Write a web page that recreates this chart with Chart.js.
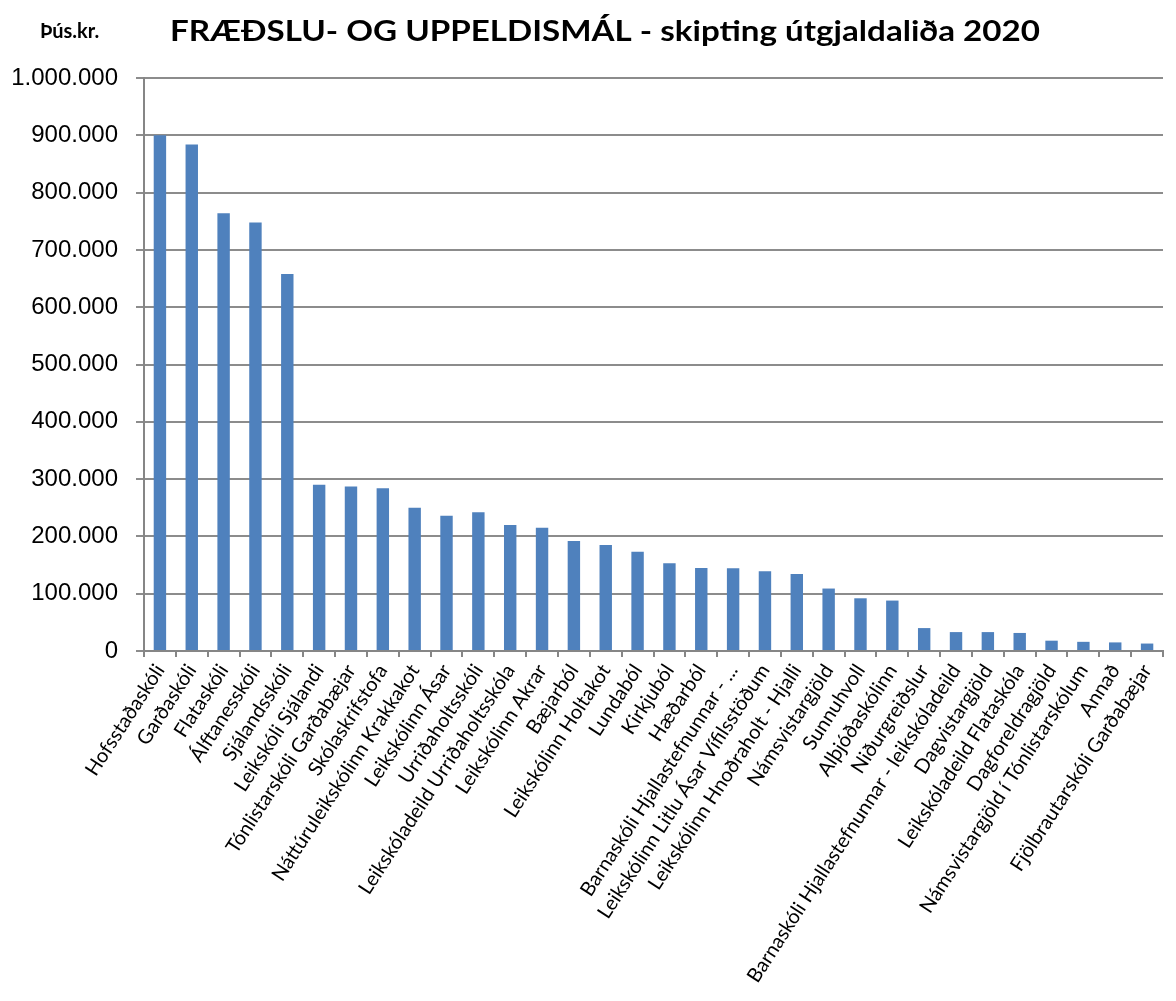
<!DOCTYPE html>
<html>
<head>
<meta charset="utf-8">
<script src="https://cdn.jsdelivr.net/npm/chart.js@4.4.0/dist/chart.umd.min.js"></script>
<style>
  html, body { margin: 0; padding: 0; background: #fff; }
  #wrap { width: 1176px; height: 1001px; position: relative; }
</style>
</head>
<body>
<div id="wrap"><canvas id="chart" width="1176" height="1001"></canvas></div>
<script>
// Categories and values (þús.kr.)
const categories = [
  "Hofsstaðaskóli", "Garðaskóli", "Flataskóli", "Álftanesskóli", "Sjálandsskóli",
  "Leikskóli Sjálandi", "Tónlistarskóli Garðabæjar", "Skólaskrifstofa",
  "Náttúruleikskólinn Krakkakot", "Leikskólinn Ásar", "Urriðaholtsskóli",
  "Leikskóladeild Urriðaholtsskóla", "Leikskólinn Akrar", "Bæjarból",
  "Leikskólinn Holtakot", "Lundaból", "Kirkjuból", "Hæðarból",
  "Barnaskóli Hjallastefnunnar - ...", "Leikskólinn Litlu Ásar Vífilsstöðum",
  "Leikskólinn Hnoðraholt - Hjalli", "Námsvistargjöld", "Sunnuhvoll",
  "Alþjóðaskólinn", "Niðurgreiðslur", "Barnaskóli Hjallastefnunnar - leikskóladeild",
  "Dagvistargjöld", "Leikskóladeild Flataskóla", "Dagforeldragjöld",
  "Námsvistargjöld í Tónlistarskólum", "Annað", "Fjölbrautarskóli Garðabæjar"
];
const values = [
  900000, 884000, 764000, 748000, 658000,
  290000, 287000, 284000,
  250000, 236000, 242000,
  220000, 215000, 192000,
  185000, 173000, 153000, 145000,
  144500, 139000,
  134500, 109000, 92000,
  88000, 40000, 33000,
  33000, 31500, 18000,
  16000, 15000, 13000
];
const yTicks = [0, 100000, 200000, 300000, 400000, 500000, 600000, 700000, 800000, 900000, 1000000];
const titleText = "FRÆÐSLU- OG UPPELDISMÁL - skipting útgjaldaliða 2020";
const unitText = "Þús.kr.";

function fmt(v) {
  return String(v).replace(/\B(?=(\d{3})+(?!\d))/g, ".");
}

// title + unit label drawn straight onto the canvas
const headerPlugin = {
  id: 'header',
  afterDraw(chart) {
    const ctx = chart.ctx;
    ctx.save();
    ctx.fillStyle = '#000';
    ctx.textBaseline = 'alphabetic';
    ctx.font = 'bold 20px Lato';
    ctx.textAlign = 'left';
    ctx.fillText(unitText, 40, 38);
    ctx.font = 'bold 29px Lato';
    const w = ctx.measureText(titleText).width;
    const target = 870;
    ctx.translate(170, 41);
    ctx.scale(target / w, 1);
    ctx.fillText(titleText, 0, 0);
    ctx.restore();
  }
};

const ctx = document.getElementById('chart').getContext('2d');
new Chart(ctx, {
  type: 'bar',
  data: {
    labels: categories,
    datasets: [{
      data: values,
      backgroundColor: '#4F81BD',
      borderWidth: 0,
      barPercentage: 0.39,
      categoryPercentage: 1.0
    }]
  },
  options: {
    responsive: false,
    animation: false,
    maintainAspectRatio: false,
    layout: { padding: { top: 78, left: 0, right: 13, bottom: 0 } },
    plugins: {
      legend: { display: false },
      title: { display: false },
      tooltip: { enabled: false }
    },
    scales: {
      x: {
        afterFit(scale) { scale.height = 350; },
        grid: {
          offset: true,
          drawOnChartArea: false,
          drawTicks: true,
          tickLength: 6,
          color: '#868686',
          lineWidth: 2
        },
        border: { color: '#868686', width: 2 },
        ticks: {
          autoSkip: false,
          minRotation: 57,
          maxRotation: 57,
          padding: 3,
          color: '#000',
          font: { family: 'Lato', size: 20 }
        }
      },
      y: {
        min: 0,
        max: 1000000,
        afterFit(scale) { scale.width = 144; },
        afterBuildTicks(scale) { scale.ticks = yTicks.map(v => ({ value: v })); },
        grid: {
          color: '#8c8c8c',
          lineWidth: 2,
          drawTicks: true,
          tickLength: 8
        },
        border: { color: '#868686', width: 2 },
        ticks: {
          padding: 18,
          color: '#000',
          font: { family: 'Liberation Sans', size: 24 },
          callback: (v) => fmt(v)
        }
      }
    }
  },
  plugins: [headerPlugin]
});
</script>
</body>
</html>
